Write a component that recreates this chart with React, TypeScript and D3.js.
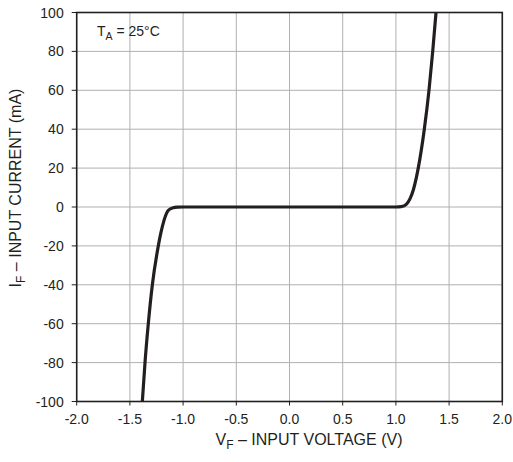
import React from "react";
import * as d3 from "d3";

const xTicks = [-2.0, -1.5, -1.0, -0.5, 0.0, 0.5, 1.0, 1.5, 2.0];
const yTicks = [-100, -80, -60, -40, -20, 0, 20, 40, 60, 80, 100];
const voltage = [-1.383, -1.358, -1.327, -1.289, -1.233, -1.21, -1.18, -1.14, -1.1, -1.05, -1.0, -0.5, 0, 0.5, 1.0, 1.05, 1.1, 1.133, 1.165, 1.19, 1.21, 1.267, 1.311, 1.346, 1.377];
const current = [-100, -80, -60, -40, -20, -13.6, -7, -1.8, -0.5, -0.1, 0, 0, 0, 0, 0, 0.2, 1.5, 4.3, 9, 14.6, 20, 40, 60, 80, 100];

const W = 513, H = 462;
const L = 76.7, R = 502.3, T = 12.5, B = 401.5;
const font = "'Liberation Sans', Arial, Helvetica, sans-serif";
const ink = "#231f20";

export default function App() {
  const x = d3.scaleLinear().domain([-2, 2]).range([L, R]);
  const y = d3.scaleLinear().domain([-100, 100]).range([B, T]);
  const pts = voltage.map((v, i) => [v, current[i]] as [number, number]);
  const line = d3.line<[number, number]>().x(d => x(d[0])).y(d => y(d[1])).curve(d3.curveMonotoneX);
  return (
    <svg width={W} height={H} style={{ position: "absolute", left: 0, top: 0 }}>
      <defs>
        <clipPath id="pc"><rect x={L} y={T} width={R - L} height={B - T} /></clipPath>
      </defs>
      {xTicks.map(t => (
        <line key={"gx" + t} x1={x(t)} x2={x(t)} y1={T} y2={B} stroke="#b0b0b0" strokeWidth={1} />
      ))}
      {yTicks.map(t => (
        <line key={"gy" + t} x1={L} x2={R} y1={y(t)} y2={y(t)} stroke="#b0b0b0" strokeWidth={1} />
      ))}
      {xTicks.map(t => (
        <g key={"tx" + t}>
          <line x1={x(t)} x2={x(t)} y1={B} y2={B + 4} stroke={ink} strokeWidth={1} />
          <text x={x(t)} y={B + 22} textAnchor="middle" fontFamily={font} fontSize={14} fill={ink}>{t.toFixed(1)}</text>
        </g>
      ))}
      {yTicks.map(t => (
        <g key={"ty" + t}>
          <line x1={L - 5} x2={L} y1={y(t)} y2={y(t)} stroke={ink} strokeWidth={1} />
          <text x={L - 13} y={y(t) + 5} textAnchor="end" fontFamily={font} fontSize={14} fill={ink}>{t}</text>
        </g>
      ))}
      <rect x={L} y={T} width={R - L} height={B - T} fill="none" stroke={ink} strokeWidth={1.6} />
      <path d={line(pts) || ""} fill="none" stroke={ink} strokeWidth={3.2} clipPath="url(#pc)" strokeLinejoin="round" />
      <text x={97} y={36} fontFamily={font} fontSize={14} fill={ink}>
        T<tspan dy={4} fontSize={10.5}>A</tspan><tspan dy={-4}> = 25°C</tspan>
      </text>
      <text x={309} y={445} textAnchor="middle" fontFamily={font} fontSize={16} fill={ink}>
        V<tspan dy={4} fontSize={12}>F</tspan><tspan dy={-4}> – INPUT VOLTAGE (V)</tspan>
      </text>
      <text transform={`translate(21,188) rotate(-90)`} textAnchor="middle" fontFamily={font} fontSize={16} fill={ink}>
        I<tspan dy={4} fontSize={12}>F</tspan><tspan dy={-4}> – INPUT CURRENT (mA)</tspan>
      </text>
    </svg>
  );
}
